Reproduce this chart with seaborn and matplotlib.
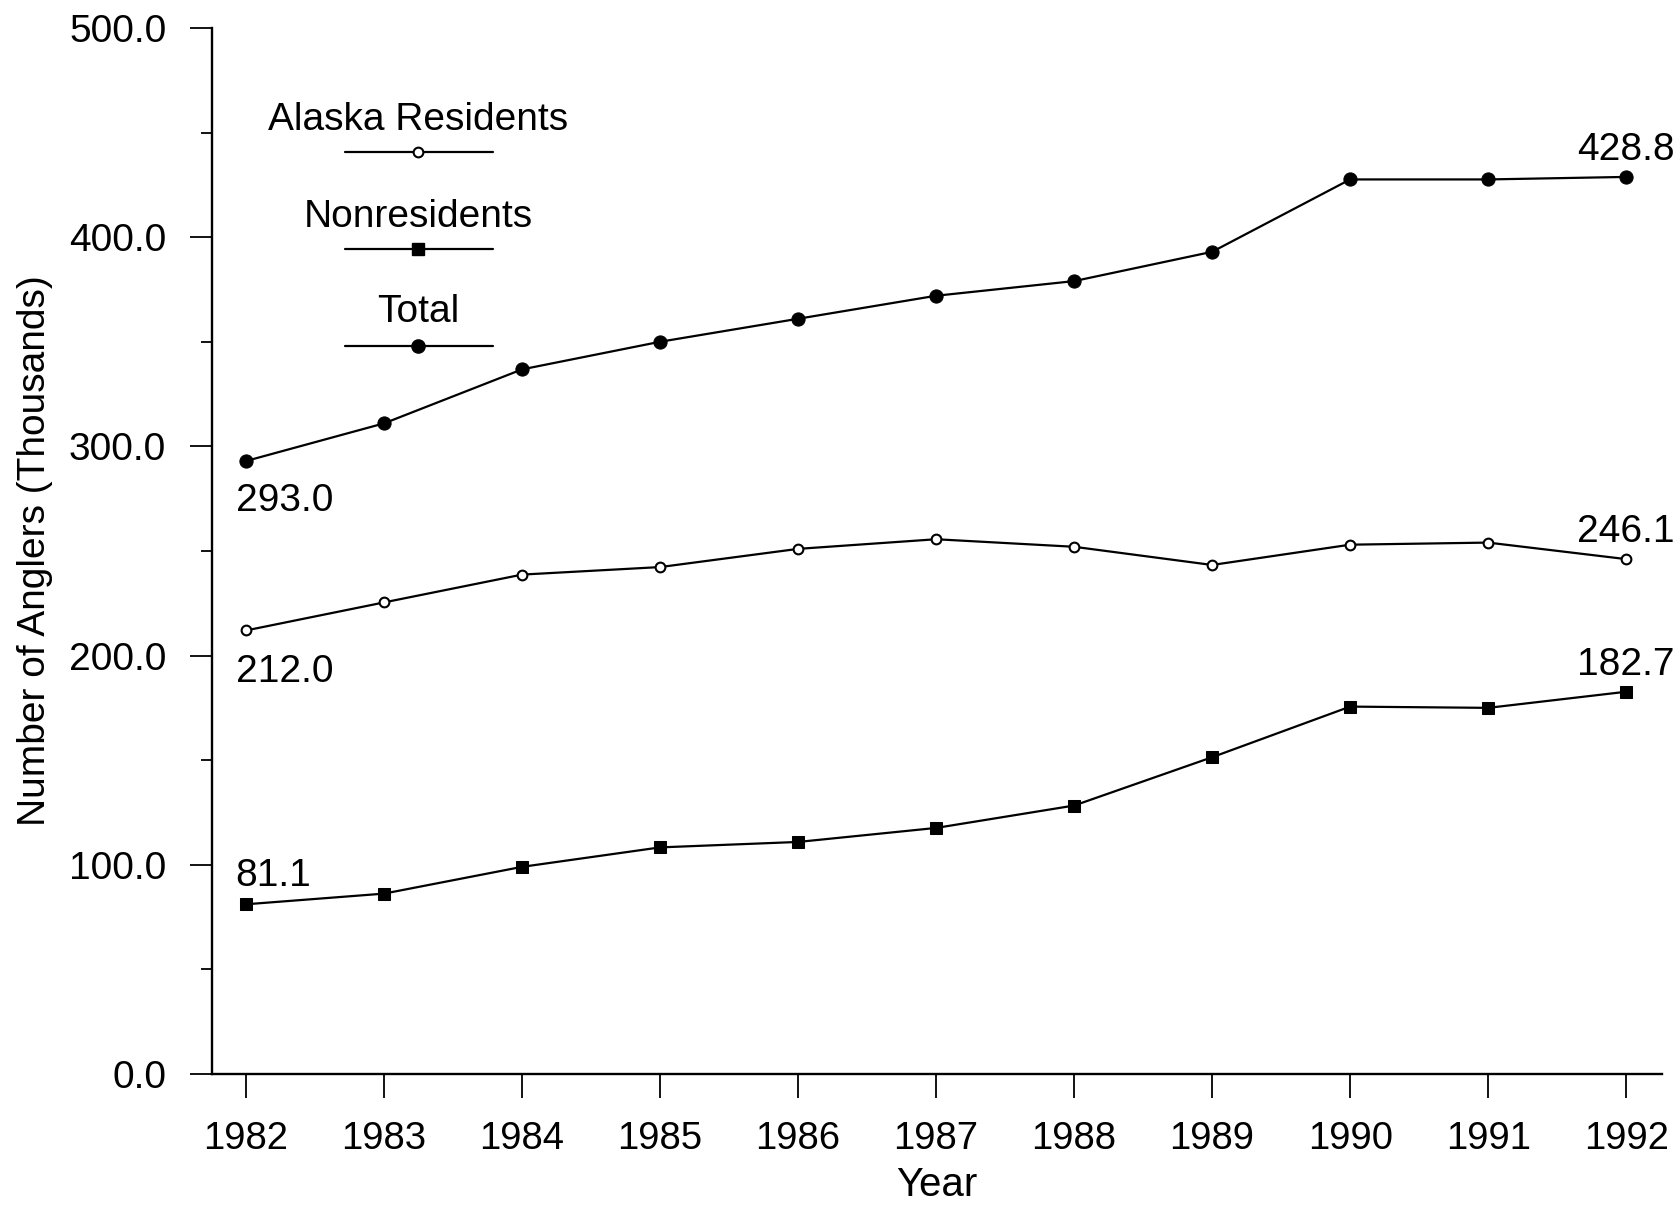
import matplotlib
matplotlib.use('Agg')
import matplotlib.pyplot as plt
from matplotlib.ticker import MultipleLocator, FormatStrFormatter
import seaborn as sns
import pandas as pd

years = list(range(1982, 1993))
total = [293.0, 311.0, 336.8, 350.0, 361.0, 372.0, 379.0, 393.0, 427.6, 427.6, 428.8]
residents = [212.0, 225.4, 238.7, 242.3, 251.0, 255.6, 252.0, 243.3, 253.0, 254.0, 246.1]
nonresidents = [81.1, 86.2, 99.0, 108.3, 110.9, 117.6, 128.3, 151.4, 175.6, 175.0, 182.7]

series_names = ['Alaska Residents', 'Nonresidents', 'Total']


def main():
    sns.set_style('ticks')
    plt.rcParams['font.family'] = ['Liberation Sans', 'DejaVu Sans']
    for k in ['text.color', 'axes.labelcolor', 'xtick.color', 'ytick.color', 'axes.edgecolor']:
        plt.rcParams[k] = 'black'

    df = pd.DataFrame({
        'Year': years * 3,
        'value': residents + nonresidents + total,
        'series': [s for s in series_names for _ in years],
    })

    fig = plt.figure(figsize=(16.79, 12.06), dpi=100)
    ax = fig.add_axes([0.1263, 0.1095, 0.8636, 0.8673])

    styles = {
        'Alaska Residents': dict(marker='o', markersize=7, markerfacecolor='white',
                                 markeredgecolor='black', markeredgewidth=1.5),
        'Nonresidents': dict(marker='s', markersize=8.5, markerfacecolor='black',
                             markeredgecolor='black'),
        'Total': dict(marker='o', markersize=9.5, markerfacecolor='black',
                      markeredgecolor='black'),
    }
    for name in series_names:
        sub = df[df['series'] == name]
        sns.lineplot(x='Year', y='value', data=sub, ax=ax, color='black',
                     linewidth=1.6, legend=False, **styles[name])

    ax.set_xlim(1981.754, 1992.26)
    ax.set_ylim(0, 500)
    ax.set_xticks(years)
    ax.yaxis.set_major_locator(MultipleLocator(100))
    ax.yaxis.set_minor_locator(MultipleLocator(50))
    ax.yaxis.set_major_formatter(FormatStrFormatter('%.1f'))
    ax.tick_params(axis='y', which='major', length=16, width=1.3, labelsize=28, pad=17)
    ax.tick_params(axis='y', which='minor', length=8, width=1.3)
    ax.tick_params(axis='x', length=17, width=1.3, labelsize=27.5, pad=17)
    for s in ['top', 'right']:
        ax.spines[s].set_visible(False)
    for s in ['left', 'bottom']:
        ax.spines[s].set_linewidth(1.7)

    ax.set_xlabel('Year', fontsize=29)
    ax.set_ylabel('Number of Anglers (Thousands)', fontsize=28)
    ax.xaxis.set_label_coords(0.5, -0.088)
    ax.yaxis.set_label_coords(-0.11, 0.5)

    # end-point value labels
    lab = dict(textcoords='offset points', fontsize=28, va='baseline')
    ax.annotate(f'{total[0]:.1f}', (years[0], total[0]), xytext=(-7.5, -36), ha='left', **lab)
    ax.annotate(f'{residents[0]:.1f}', (years[0], residents[0]), xytext=(-7.5, -37), ha='left', **lab)
    ax.annotate(f'{nonresidents[0]:.1f}', (years[0], nonresidents[0]), xytext=(-7.5, 13.5), ha='left', **lab)
    ax.annotate(f'{total[-1]:.1f}', (years[-1], total[-1]), xytext=(0, 12), ha='center', **lab)
    ax.annotate(f'{residents[-1]:.1f}', (years[-1], residents[-1]), xytext=(0, 12), ha='center', **lab)
    ax.annotate(f'{nonresidents[-1]:.1f}', (years[-1], nonresidents[-1]), xytext=(0, 12), ha='center', **lab)

    # legend: label above each sample line
    leg_rows = [(0.8815, 0.9025), (0.7887, 0.8098), (0.696, 0.719)]
    for name, (ly, ty) in zip(series_names, leg_rows):
        ax.plot([0.0917, 0.1938], [ly, ly], transform=ax.transAxes, color='black',
                linewidth=1.6, clip_on=False)
        ax.plot([0.142], [ly], transform=ax.transAxes, color='black', clip_on=False,
                linestyle='none', **styles[name])
        ax.text(0.142, ty, name, transform=ax.transAxes, ha='center', va='baseline', fontsize=28)

    fig.savefig('out.png', dpi=100)


if __name__ == '__main__':
    main()
